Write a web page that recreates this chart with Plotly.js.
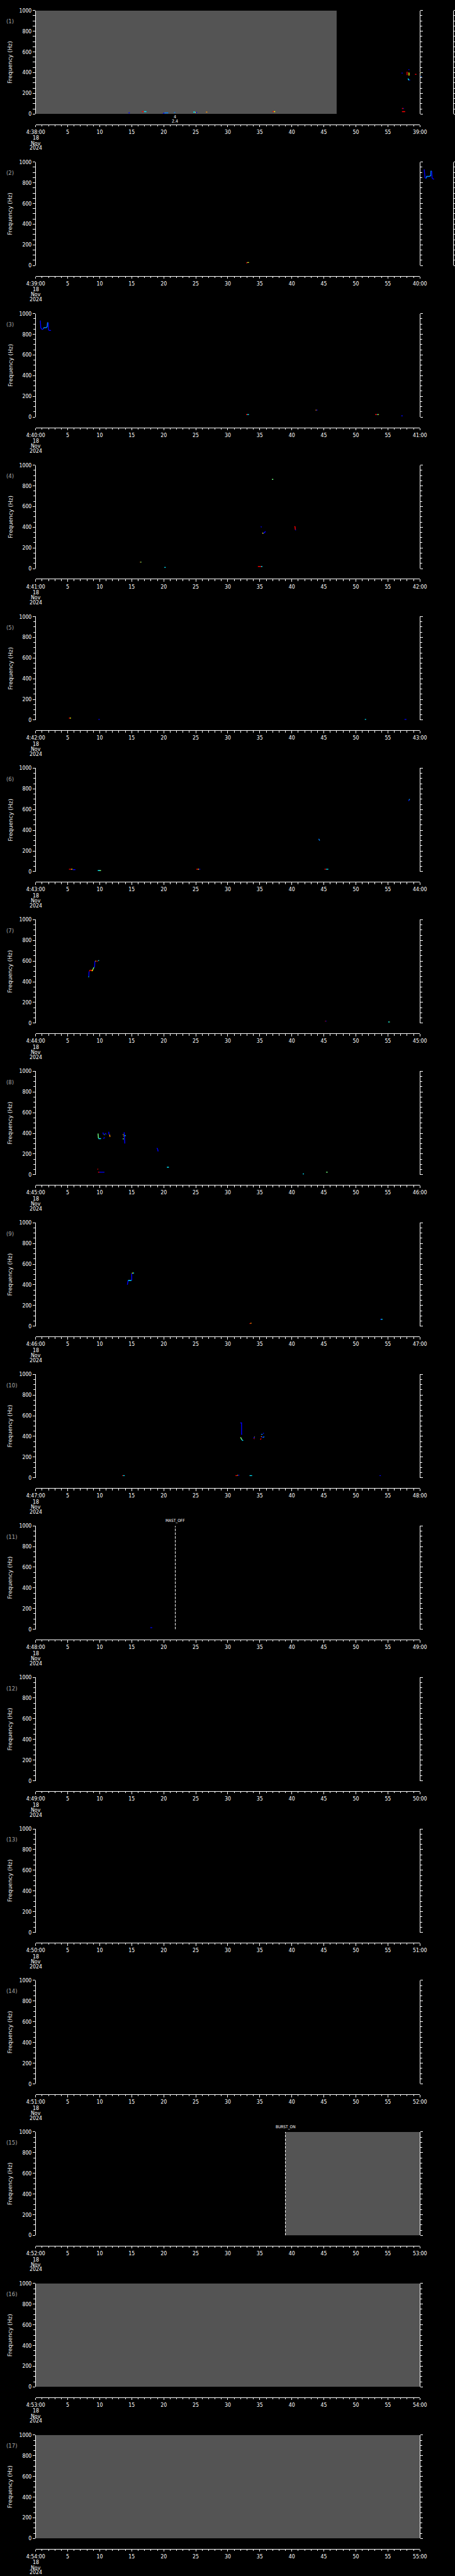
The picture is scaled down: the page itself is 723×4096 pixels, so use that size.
<!DOCTYPE html>
<html><head><meta charset="utf-8">
<script src="https://cdn.plot.ly/plotly-3.0.1.min.js"></script>
<style>html,body{margin:0;padding:0;background:#000;}</style>
</head><body><div id="chart" style="width:723px;height:4096px;"></div>
<script>
// ---------------- data ----------------
const panelLabels = ["(1)","(2)","(3)","(4)","(5)","(6)","(7)","(8)","(9)","(10)","(11)","(12)","(13)","(14)","(15)","(16)","(17)"];
const startLabels = ["4:38:00","4:39:00","4:40:00","4:41:00","4:42:00","4:43:00","4:44:00","4:45:00","4:46:00","4:47:00","4:48:00","4:49:00","4:50:00","4:51:00","4:52:00","4:53:00","4:54:00"];
const endLabels = ["39:00","40:00","41:00","42:00","43:00","44:00","45:00","46:00","47:00","48:00","49:00","50:00","51:00","52:00","53:00","54:00","55:00"];
const midTickLabels = ["5","10","15","20","25","30","35","40","45","50","55"];
const dateLines = ["18","Nov","2024"];
const yTickVals = [0,200,400,600,800,1000];
const yTitle = "Frequency (Hz)";

// data gaps (grey) per panel
const gapPanel = [1,15,16,17];
const gapStart = [0,39,0,0];
const gapEnd   = [47,60,60,60];

// event markers (dashed lines)
const eventPanel = [11,15];
const eventTime  = [21.8,39.0];
const eventText  = ["MAST_OFF","BURST_ON"];
const eventDash  = [true,true];

// panel 1 extra labels under the plot
const p1NoteTime = 21.75;
const p1NoteText = ["4","2.4"];

// spectrogram marks: [colour, times (s), frequencies (Hz)]
const marksP1 = [
  ["blue",[14.5,14.7],[10,10]],
  ["red",[16.6,16.9],[23,23]],["cyan",[16.9,17.3],[23,23]],
  ["blue",[19.9,20.1],[6,6]],["dodger",[20.1,20.7],[10,10]],
  ["dodger",[21.6,21.8],[14,14]],
  ["cyan",[24.6,24.9],[18,18]],["yellow",[24.9,25.0],[15,15]],["blue",[25.0,25.2],[14,14]],
  ["orange",[26.6,26.8],[18,18]],
  ["red",[37.0,37.2],[23,23]],["yellow",[37.2,37.4],[23,23]],
  ["blue",[58.2,58.35],[429,429]],
  ["blue",[57.2,57.25],[390,400]],
  ["red",[57.95,58.0,58.0],[405,405,375]],
  ["yellow",[58.25,58.3,58.3],[400,395,370]],
  ["cyan",[58.1,58.2,58.3],[340,338,325]],
  ["blue",[58.35,58.45],[332,325]],
  ["red",[59.25,59.45],[383,383]],
  ["red",[60.02,60.08],[402,402]],["green",[60.08,60.15],[398,398]],
  ["dodger",[60.15,60.3],[362,362]],
  ["red",[57.2,57.4],[53,53]],["blue",[57.4,57.5],[53,53]],
  ["red",[57.2,57.7],[23,23]]
];
const marksP2 = [
  ["blue",[60.67,60.72,60.81,61.0],[929,876,847,843]],
  ["dodger",[61.0,61.05,61.45,61.7,61.72,61.85],[843,861,861,869,911,911]],
  ["blue",[61.85,61.9,62.0,62.2],[911,847,840,833]],
  ["red",[32.9,33.05],[23,29]],["green",[33.05,33.15],[29,29]],["yellow",[33.15,33.3],[29,29]]
];
const marksP3 = [
  ["blue",[0.72,0.8,1.0,1.2],[933,861,847,850]],
  ["dodger",[1.2,1.3,1.65,1.8,1.85,1.97],[854,864,864,875,911,911]],
  ["blue",[1.97,2.0,2.1,2.4],[911,847,837,837]],
  ["red",[32.85,33.05],[24,24]],["cyan",[33.05,33.3],[24,24]],
  ["orange",[43.7,43.85],[67,67]],["blue",[43.85,44.0],[67,67]],
  ["red",[53.0,53.3],[24,24]],["cyan",[53.3,53.45],[24,24]],["yellow",[53.45,53.6],[24,24]],
  ["blue",[57.1,57.3],[11,11]]
];
const marksP4 = [
  ["green",[36.9,37.1],[862,862]],
  ["blue",[35.15,35.3],[405,400]],
  ["yellow",[35.4,35.55],[345,338]],["blue",[35.55,35.9],[340,358]],
  ["red",[40.4,40.5,40.55],[407,405,375]],["blue",[40.55,40.65],[375,372]],
  ["orange",[16.3,16.4],[63,63]],["green",[16.4,16.5],[63,63]],
  ["cyan",[20.1,20.3],[11,11]],
  ["red",[34.7,35.2],[20,20]],["cyan",[35.2,35.4],[20,20]]
];
const marksP5 = [
  ["red",[5.2,5.35],[20,20]],["yellow",[5.35,5.5],[20,20]],
  ["blue",[9.8,10.0],[7,7]],
  ["cyan",[51.4,51.6],[7,7]],
  ["blue",[57.6,57.9],[7,7]]
];
const marksP6 = [
  ["red",[5.2,5.55],[23,23]],["yellow",[5.55,5.75],[23,23]],["blue",[5.8,6.2],[19,19]],
  ["cyan",[9.7,9.95],[10,10]],["green",[9.95,10.2],[10,10]],
  ["red",[25.1,25.35],[23,23]],["yellow",[25.35,25.5],[23,23]],["blue",[25.5,25.7],[23,23]],
  ["red",[45.1,45.35],[23,23]],["cyan",[45.35,45.7],[23,23]],
  ["dodger",[44.2,44.35],[317,300]],
  ["blue",[58.2,58.3],[684,690]],["dodger",[58.3,58.4],[690,702]]
];
const marksP7 = [
  ["cyan",[8.25,8.3],[445,452]],
  ["blue",[8.3,8.33],[452,500]],
  ["red",[8.38,8.5,8.7,8.75],[502,512,512,503]],
  ["yellow",[8.8,8.95],[503,520]],
  ["green",[8.95,9.1],[520,540]],
  ["blue",[9.1,9.2,9.25],[540,545,600]],
  ["orange",[9.3,9.45],[600,600]],
  ["red",[9.55,9.7],[598,600]],
  ["cyan",[9.75,9.9],[603,606]],
  ["red",[45.2,45.3],[20,20]],["blue",[45.3,45.4],[20,20]],
  ["cyan",[55.05,55.2],[11,11]],["green",[55.2,55.3],[11,11]]
];
const marksP8 = [
  ["green",[9.74,9.76,9.8],[398,360,351]],["cyan",[9.8,10.2],[348,348]],
  ["blue",[10.5,10.55,10.6],[408,395,387]],["green",[10.7,10.8],[387,387]],
  ["blue",[10.8,10.95,11.05],[401,395,391]],["blue",[10.55,10.8],[351,358]],
  ["blue",[11.4,11.45],[415,387]],["orange",[11.55,11.6],[387,365]],
  ["yellow",[13.64,13.7],[390,385]],["orange",[13.7,13.8],[375,372]],
  ["blue",[13.82,13.87,13.92],[410,340,301]],["green",[13.6,13.75],[348,344]],
  ["cyan",[13.9,14.05],[377,377]],
  ["blue",[18.94,19.05,19.12],[258,245,225]],
  ["cyan",[20.5,20.8],[72,72]],
  ["red",[9.65,9.75],[54,52]],
  ["red",[9.74,9.95],[24,24]],["blue",[9.95,10.74],[24,24]],
  ["cyan",[41.7,41.9],[7,7]],
  ["green",[45.35,45.6],[24,24]]
];
const marksP9 = [
  ["blue",[14.32,14.38,14.45],[401,430,444]],["cyan",[14.45,14.95],[442,442]],
  ["blue",[15.0,15.0],[442,511]],["yellow",[15.04,15.2],[512,514]],["cyan",[15.2,15.36],[514,514]],
  ["red",[33.4,33.55],[25,27]],["orange",[33.55,33.7],[29,29]],
  ["blue",[53.8,53.95],[67,67]],["cyan",[53.95,54.15],[67,67]]
];
const marksP10 = [
  ["blue",[31.95,32.15,32.15,32.25],[530,530,420,420]],
  ["red",[31.95,32.0],[391,391]],["green",[32.0,32.2],[391,367]],["cyan",[32.2,32.4],[367,358]],
  ["blue",[34.05,34.15],[382,395]],["red",[34.1,34.15],[375,380]],["yellow",[34.15,34.2],[395,395]],
  ["red",[35.1,35.2],[367,380]],["orange",[35.2,35.3],[395,400]],["blue",[35.3,35.5],[395,390]],
  ["dodger",[35.5,35.7],[390,397]],["dodger",[35.2,35.45],[420,420]],["blue",[35.55,35.6],[434,425]],
  ["red",[13.5,13.65],[20,20]],["cyan",[13.65,13.9],[20,20]],
  ["red",[31.2,31.5],[20,20]],["yellow",[31.5,31.6],[25,25]],["blue",[31.6,31.8],[25,25]],
  ["cyan",[33.4,33.8],[20,20]],
  ["blue",[53.7,53.9],[20,20]]
];
const marksP11 = [
  ["blue",[17.9,18.2],[15,15]]
];
const marksP12 = [];
const marksP13 = [];
const marksP14 = [];
const marksP15 = [];
const marksP16 = [];
const marksP17 = [];

const COLORS = {blue:"#0000ff", dodger:"#0080ff", cyan:"#00e8ff", green:"#70ff80", yellow:"#ffff00", orange:"#ff9000", red:"#ff0000"};

// ---------------- geometry (reference pixels) ----------------
const REF_W = 1024, REF_H = 5802, NP = 17, SLOT = REF_H / NP;
const K = 723 / 1024;
const PLOT_L = 80.3, PLOT_R = 945, PLOT_T = 23.7, PLOT_B = 256.7, XLINE = 280;
const px = x => x / REF_W;
const py = y => 1 - y / REF_H;
const tickFamily = "DejaVu Sans Condensed, Liberation Sans Narrow, Roboto Condensed, DejaVu Sans, sans-serif";
const tickFont = {family: tickFamily, size: 8.7, color: "#ffffff"};

const allMarks = [marksP1,marksP2,marksP3,marksP4,marksP5,marksP6,marksP7,marksP8,marksP9,marksP10,marksP11,marksP12,marksP13,marksP14,marksP15,marksP16,marksP17];

const layout = {
  width: 723, height: 4096,
  margin: {l:0, r:0, t:0, b:0},
  paper_bgcolor: "#000000",
  plot_bgcolor: "rgba(0,0,0,0)",
  showlegend: false,
  shapes: [], annotations: []
};
const traces = [];

const xTickVals = [0,5,10,15,20,25,30,35,40,45,50,55,60];
const xMinorVals = []; for (let v = 0; v <= 60; v++) xMinorVals.push(v);
const yMinorVals = []; for (let v = 0; v <= 1000; v += 50) yMinorVals.push(v);

for (let i = 0; i < NP; i++) {
  const n = i + 1, id = n === 1 ? "" : String(n);
  const s = i * SLOT;
  layout["xaxis" + id] = {
    domain: [px(PLOT_L), px(PLOT_R)], range: [0, 60],
    anchor: "free", position: py(s + XLINE),
    showline: true, linecolor: "#ffffff", linewidth: 1,
    ticks: "outside", ticklen: 3.6, tickwidth: 1, tickcolor: "#ffffff",
    tickmode: "array", tickvals: xTickVals,
    ticktext: [startLabels[i]].concat(midTickLabels, [endLabels[i]]),
    tickfont: tickFont, tickangle: 0,
    minor: {tickmode: "array", tickvals: xMinorVals, ticks: "outside", ticklen: 2.4, tickwidth: 1, tickcolor: "#ffffff", showgrid: false},
    showgrid: false, zeroline: false, fixedrange: true
  };
  layout["yaxis" + id] = {
    domain: [py(s + PLOT_B), py(s + PLOT_T)], range: [0, 1000],
    anchor: "x" + id,
    showline: true, linecolor: "#ffffff", linewidth: 1, mirror: "allticks",
    ticks: "outside", ticklen: 3.6, tickwidth: 1, tickcolor: "#ffffff",
    tickmode: "array", tickvals: yTickVals, ticktext: yTickVals.map(String),
    tickfont: tickFont,
    minor: {tickmode: "array", tickvals: yMinorVals, ticks: "outside", ticklen: 2.4, tickwidth: 1, tickcolor: "#ffffff", showgrid: false},
    showgrid: false, zeroline: false, fixedrange: true
  };
  // make sure the main subplot exists
  traces.push({type: "scatter", mode: "lines", x: [], y: [], xaxis: "x" + id, yaxis: "y" + id, hoverinfo: "skip"});

  // overflow axis (marks drawn past the right edge, as in the reference)
  let needOver = allMarks[i].some(m => m[1].some(v => v > 60));
  const oid = String(NP + n);
  if (needOver) {
    const OVER_R = 1020;
    layout["xaxis" + oid] = {
      domain: [px(PLOT_L), px(OVER_R)],
      range: [0, 60 * (OVER_R - PLOT_L) / (PLOT_R - PLOT_L)],
      anchor: "y" + id, visible: false, fixedrange: true
    };
  }
  allMarks[i].forEach(m => {
    const over = m[1].some(v => v > 60);
    traces.push({
      type: "scatter", mode: "lines", x: m[1], y: m[2],
      xaxis: over ? "x" + oid : "x" + id, yaxis: "y" + id,
      line: {color: COLORS[m[0]], width: 1.4}, hoverinfo: "skip"
    });
  });

  // panel label, y title, date lines
  layout.annotations.push({xref: "paper", yref: "paper", x: px(12), y: py(s + 47.7), xanchor: "left", yanchor: "middle",
    text: panelLabels[i], showarrow: false, font: {family: tickFamily, size: 9.5, color: "#a8a8a8"}});
  layout.annotations.push({xref: "paper", yref: "paper", x: px(23), y: py(s + 140), xanchor: "center", yanchor: "middle",
    text: yTitle, textangle: -90, showarrow: false, font: {family: "DejaVu Sans, sans-serif", size: 9, color: "#f0f0f0"}});
  const dateY = [310.7, 322.3, 333.3];
  dateLines.forEach((t, k) => {
    layout.annotations.push({xref: "paper", yref: "paper", x: px(PLOT_L), y: py(s + dateY[k]), xanchor: "center", yanchor: "middle",
      text: t, showarrow: false, font: tickFont});
  });
}

// grey data gaps
gapPanel.forEach((p, k) => {
  const id = p === 1 ? "" : String(p);
  layout.shapes.push({type: "rect", xref: "x" + id, yref: "y" + id, x0: gapStart[k], x1: gapEnd[k], y0: 0, y1: 1000,
    fillcolor: "#545454", line: {width: 0}, layer: "below"});
});

// event lines and labels
eventPanel.forEach((p, k) => {
  const id = p === 1 ? "" : String(p);
  const s = (p - 1) * SLOT;
  layout.shapes.push({type: "line", xref: "x" + id, yref: "y" + id, x0: eventTime[k], x1: eventTime[k], y0: 0, y1: 1000,
    line: {color: "#ffffff", width: 1, dash: eventDash[k] ? "4px,2px" : "solid"}, layer: "above"});
  layout.annotations.push({xref: "x" + id, yref: "paper", x: eventTime[k], y: py(s + 12), xanchor: "center", yanchor: "middle",
    text: eventText[k], showarrow: false, font: {family: tickFamily, size: 6.5, color: "#ffffff"}});
});

// panel 1 note under plot
const noteY = [263, 272.7];
p1NoteText.forEach((t, k) => {
  layout.annotations.push({xref: "x", yref: "paper", x: p1NoteTime, y: py(noteY[k]), xanchor: "center", yanchor: "middle",
    text: t, showarrow: false, font: {family: tickFamily, size: 7, color: "#ffffff"}});
});

Plotly.newPlot("chart", traces, layout, {staticPlot: true, displayModeBar: false});
</script></body></html>
